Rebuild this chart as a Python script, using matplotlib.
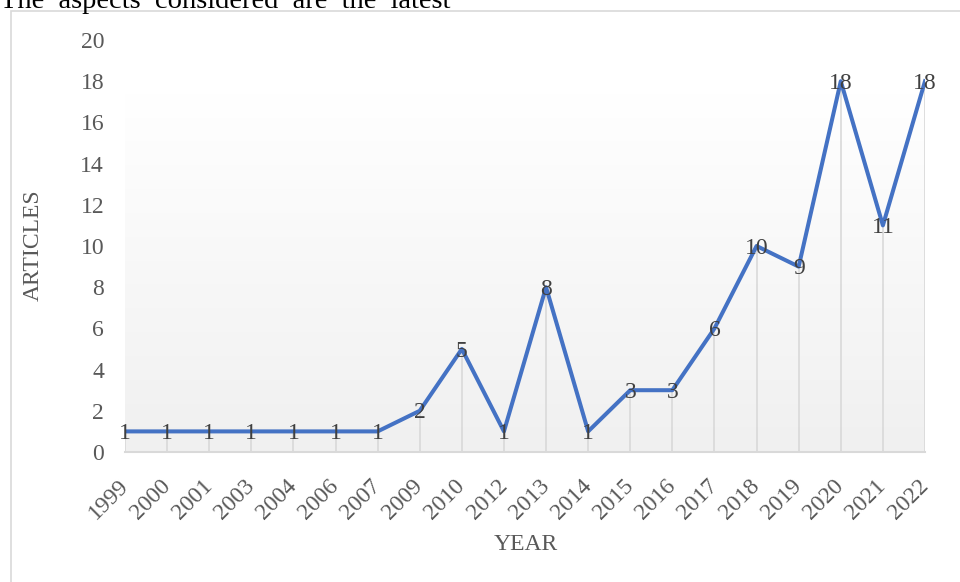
import numpy as np
import matplotlib
matplotlib.use("Agg")
import matplotlib.pyplot as plt
from matplotlib.colors import LinearSegmentedColormap
from matplotlib.patches import Rectangle

# articles published per year
years = ['1999', '2000', '2001', '2003', '2004', '2006', '2007', '2009', '2010',
         '2012', '2013', '2014', '2015', '2016', '2017', '2018', '2019', '2020',
         '2021', '2022']
articles = [1, 1, 1, 1, 1, 1, 1, 2, 5, 1, 8, 1, 3, 3, 6, 10, 9, 18, 11, 18]
y_ticks = [0, 2, 4, 6, 8, 10, 12, 14, 16, 18, 20]

plt.rcParams['font.family'] = ['Liberation Serif', 'DejaVu Serif']

W, H = 960, 582
fig = plt.figure(figsize=(W / 100, H / 100), dpi=100)
ax = fig.add_axes([125 / W, 1 - 452 / H, 800 / W, 412 / H])

x = np.arange(len(years))
ax.set_xlim(0, len(years) - 1)
ax.set_ylim(0, 20)

# soft gray gradient behind the series, darker at the bottom
grad = np.linspace(0, 1, 256).reshape(-1, 1)
cmap = LinearSegmentedColormap.from_list('bg', ['#f0f0f0', '#ffffff'])
ax.imshow(grad, cmap=cmap, aspect='auto', origin='lower',
          extent=[0, len(years) - 1, 0, 17.4], zorder=0, vmin=0, vmax=1)
ax.plot([len(years) - 1, len(years) - 1], [0, 17.4], color='#e6e6e6', lw=1, zorder=1)

# drop lines
ax.vlines(x, 0, articles, color='#d9d9d9', lw=1.2, zorder=1)

ax.plot(x, articles, color='#4472C4', lw=2.9, zorder=3, solid_joinstyle='round')

for xi, v in zip(x, articles):
    ax.text(xi, v - 0.1, str(v), ha='center', va='center', fontsize=17,
            color='#404040', zorder=4)

for s in ['top', 'right', 'left']:
    ax.spines[s].set_visible(False)
ax.spines['bottom'].set_color('#d9d9d9')
ax.spines['bottom'].set_linewidth(1.5)
ax.spines['bottom'].set_zorder(2)

ax.set_yticks(y_ticks)
ax.set_yticklabels([str(t) for t in y_ticks])
ax.set_xticks(x)
ax.set_xticklabels(years, rotation=45, ha='right', va='center',
                   rotation_mode='anchor')
ax.tick_params(axis='y', length=0, pad=15, labelsize=17, labelcolor='#595959')
ax.tick_params(axis='x', length=0, pad=22, labelsize=17, labelcolor='#595959')
ax.set_facecolor('none')

fig.text(33 / W, 1 - 245 / H, 'ARTICLES', rotation=90, ha='center',
         va='center', fontsize=17, color='#595959')
fig.text(526 / W, 1 - 544 / H, 'YEAR', ha='center', va='center',
         fontsize=17, color='#595959')

# chart frame and the text line above it
fig.patches.append(Rectangle((10.5 / W, -0.1), 1.2, 1.1 - 10.5 / H,
                             transform=fig.transFigure, fill=False,
                             edgecolor='#d9d9d9', lw=1.2))
fig.text(0, 1 - 8 / H, 'The  aspects  considered  are  the  latest',
         ha='left', va='baseline', fontsize=20.5, color='black')

fig.savefig('out.png', dpi=100)
